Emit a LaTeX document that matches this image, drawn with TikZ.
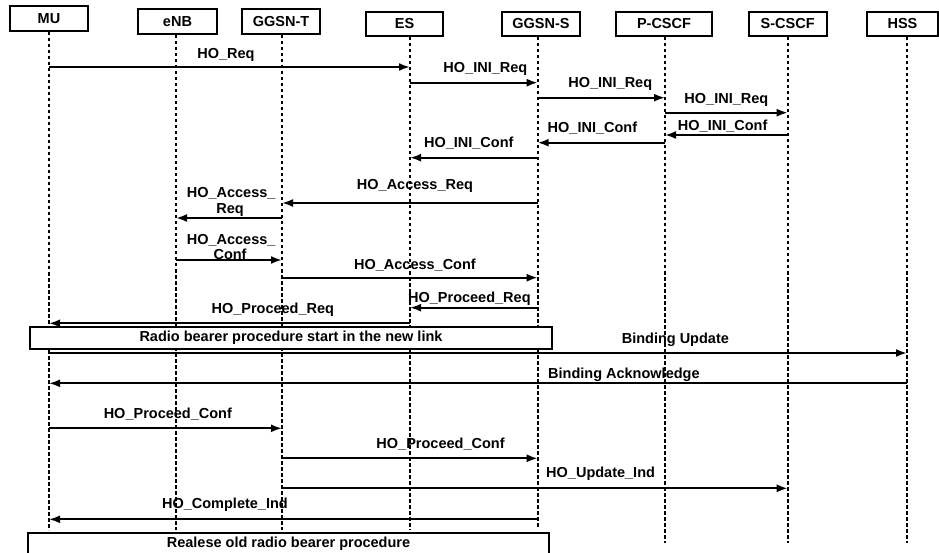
\documentclass[tikz,border=0pt]{standalone}
\usepackage{fontspec}
\setmainfont{Liberation Sans}
\usepackage{tikz}
\usetikzlibrary{arrows.meta,positioning}

\begin{document}
\begin{tikzpicture}[x=1pt,y=-1pt,
entity/.style={
rectangle,
draw,
line width=2pt,
minimum width=78pt,
minimum height=24pt,
inner sep=0pt,
font=\bfseries\fontsize{14.5}{17}\selectfont
},
life/.style={line width=2pt,dash pattern=on 3.5pt off 2.5pt},
msg/.style={-{Latex[length=11pt,width=8pt]},line width=2pt},
lbl/.style={anchor=base,yshift=#1,inner sep=0pt,font=\bfseries\fontsize{14.5}{16}\selectfont},
lbl/.default=10pt,
proc/.style={
rectangle,
draw,
fill=white,
line width=2pt,
minimum height=22pt,
inner sep=0pt,
font=\bfseries\fontsize{14.5}{16}\selectfont
}]
\useasboundingbox (0,0) rectangle (939,553);

% lifeline tops
\coordinate (mu) at (49,32);
\coordinate (enb) at (176,35);
\coordinate (ggsnt) at (282,35);
\coordinate (es) at (410,37);
\coordinate (ggsns) at (537.7,37);
\coordinate (pcscf) at (665,37);
\coordinate (scscf) at (787.7,37);
\coordinate (hss) at (907,37);

% entities
\node (mu-box) [entity,above=0pt of mu,minimum height=25pt] {MU};
\node (enb-box) [entity,above=0pt of enb,xshift=1.5pt,minimum width=79pt,minimum height=25pt] {eNB};
\node (ggsnt-box) [entity,above=0pt of ggsnt,xshift=-1pt,minimum height=25pt] {GGSN-T};
\node (es-box) [entity,above=0pt of es,xshift=-5.5pt,minimum width=77pt] {ES};
\node (ggsns-box) [entity,above=0pt of ggsns,xshift=3.3pt] {GGSN-S};
\node (pcscf-box) [entity,above=0pt of pcscf,xshift=-1pt,minimum width=96pt] {P-CSCF};
\node (scscf-box) [entity,above=0pt of scscf] {S-CSCF};
\node (hss-box) [entity,above=0pt of hss,xshift=-4.5pt,minimum width=71pt] {HSS};

\draw[life] (mu) -- (mu |- 0,530);
\draw[life] (enb) -- (enb |- 0,530);
\draw[life] (ggsnt) -- (ggsnt |- 0,530);
\draw[life] (es) -- (es |- 0,530);
\draw[life] (ggsns) -- (ggsns |- 0,528);
\draw[life] (pcscf) -- (pcscf |- 0,543);
\draw[life] (scscf) -- (scscf |- 0,543);
\draw[life] (hss) -- (hss |- 0,543);

% handover initiation
\draw[msg] (mu |- 0,67) -- node[lbl=8pt,pos=.49]{HO\_Req} (es |- 0,67);
\draw[msg] (es |- 0,82.7) -- node[lbl,pos=.59]{HO\_INI\_Req} (ggsns |- 0,82.7);
\draw[msg] (ggsns |- 0,97.7) -- node[lbl,pos=.57]{HO\_INI\_Req} (pcscf |- 0,97.7);
\draw[msg] (pcscf |- 0,112.7) -- node[lbl=9pt,pos=.5]{HO\_INI\_Req} (scscf |- 0,112.7);
\draw[msg] (scscf |- 0,135) -- node[lbl=4pt,pos=.53]{HO\_INI\_Conf} (pcscf |- 0,135);
\draw[msg] (pcscf |- 0,142.7) -- node[lbl,pos=.57]{HO\_INI\_Conf} (ggsns |- 0,142.7);
\draw[msg] (ggsns |- 0,157.7) -- node[lbl,pos=.54]{HO\_INI\_Conf} (es |- 0,157.7);

% access
\draw[msg] (ggsns |- 0,203) -- node[lbl=13pt,pos=.48]{HO\_Access\_Req} (ggsnt |- 0,203);
\draw[msg] (ggsnt |- 0,218) -- node[lbl=20pt,pos=.48]{HO\_Access\_} node[lbl=4.5pt,pos=.49]{Req} (enb |- 0,218);
\draw[msg] (enb |- 0,260) -- node[lbl=16pt,pos=.52]{HO\_Access\_} node[lbl=0pt,pos=.51]{Conf} (ggsnt |- 0,260);
\draw[msg] (ggsnt |- 0,277.7) -- node[lbl=8pt,pos=.52]{HO\_Access\_Conf} (ggsns |- 0,277.7);
\draw[msg] (ggsns |- 0,307.7) -- node[lbl=5pt,pos=.535]{HO\_Proceed\_Req} (es |- 0,307.7);
\draw[msg] (es |- 0,323.3) -- node[lbl,pos=.38]{HO\_Proceed\_Req} (mu |- 0,323.3);

\node (radio) [proc,minimum width=522pt] at (291,338) {Radio bearer procedure start in the new link};

% binding
\draw[msg] (mu |- 0,353) -- node[lbl,pos=.73]{Binding Update} (hss |- 0,353);
\draw[msg] (hss |- 0,383.3) -- node[lbl=5pt,pos=.33]{Binding Acknowledge} (mu |- 0,383.3);

% completion
\draw[msg] (mu |- 0,428.3) -- node[lbl,pos=.51]{HO\_Proceed\_Conf} (ggsnt |- 0,428.3);
\draw[msg] (ggsnt |- 0,458.3) -- node[lbl,pos=.62]{HO\_Proceed\_Conf} (ggsns |- 0,458.3);
\draw[msg] (ggsnt |- 0,488.3) -- node[lbl=11pt,pos=.63]{HO\_Update\_Ind} (scscf |- 0,488.3);
\draw[msg] (ggsns |- 0,519.3) -- node[lbl=11pt,pos=.64]{HO\_Complete\_Ind} (mu |- 0,519.3);

\node (release) [proc,minimum width=521pt] at (288.5,544) {Realese old radio bearer procedure};
\end{tikzpicture}
\end{document}
